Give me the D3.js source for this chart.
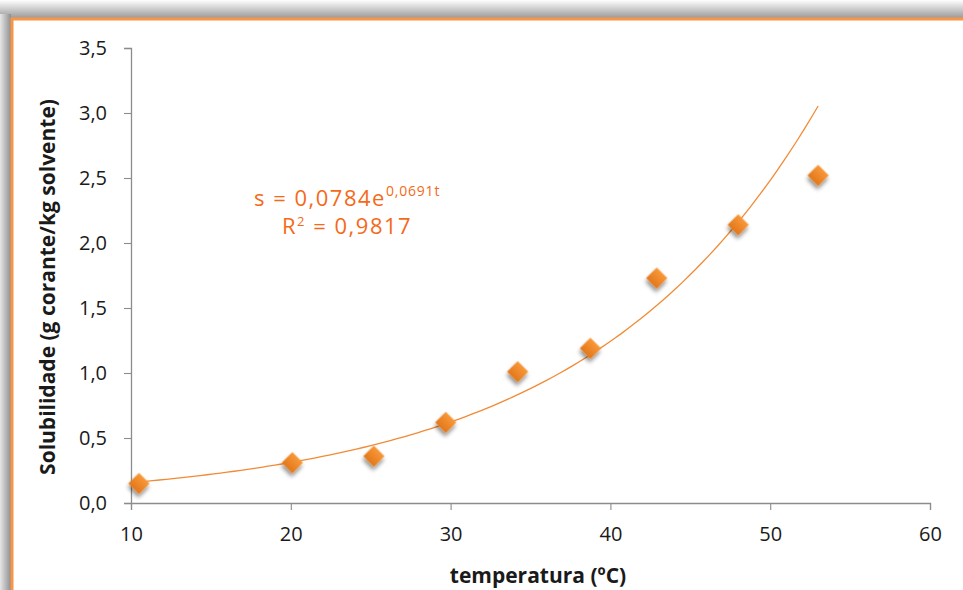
<!DOCTYPE html>
<html><head><meta charset="utf-8">
<script src="https://cdn.jsdelivr.net/npm/d3@7"></script>
<style>
html,body{margin:0;padding:0;background:#fff;}
svg{display:block;}
</style></head>
<body>
<svg id="c" width="963" height="590"></svg>
<script>
const temperatures = [10.5, 20.1, 25.2, 29.7, 34.2, 38.75, 42.9, 48.0, 53.0];
const solubility = [0.15, 0.31, 0.36, 0.62, 1.01, 1.19, 1.73, 2.14, 2.52];
const fitA = 0.0784, fitB = 0.0691;
const xTicks = [10, 20, 30, 40, 50, 60];
const yTicks = [0, 0.5, 1.0, 1.5, 2.0, 2.5, 3.0, 3.5];
const xTitle = "temperatura (ºC)";
const yTitle = "Solubilidade (g corante/kg solvente)";

const svg = d3.select("#c");
const defs = svg.append("defs");

// frame shadow
const gTop = defs.append("linearGradient").attr("id","shTop").attr("x1",0).attr("y1",0).attr("x2",0).attr("y2",1);
gTop.append("stop").attr("offset","0%").attr("stop-color","#ffffff");
gTop.append("stop").attr("offset","100%").attr("stop-color","#9a9a9a");
const gLeft = defs.append("linearGradient").attr("id","shLeft").attr("x1",0).attr("y1",0).attr("x2",1).attr("y2",0);
gLeft.append("stop").attr("offset","0%").attr("stop-color","#e6e6e6");
gLeft.append("stop").attr("offset","100%").attr("stop-color","#8e8e8e");
svg.append("rect").attr("x",0).attr("y",0).attr("width",963).attr("height",18).attr("fill","url(#shTop)");
svg.append("rect").attr("x",0).attr("y",14).attr("width",11).attr("height",576).attr("fill","url(#shLeft)");
svg.append("rect").attr("x",12).attr("y",19).attr("width",960).attr("height",580)
  .attr("fill","#fff").attr("stroke","#F79646").attr("stroke-width",3);

const filt = defs.append("filter").attr("id","ds").attr("x","-50%").attr("y","-50%").attr("width","200%").attr("height","200%");
filt.append("feGaussianBlur").attr("in","SourceAlpha").attr("stdDeviation",2.2).attr("result","b");
filt.append("feOffset").attr("in","b").attr("dx",2).attr("dy",3).attr("result","o");
filt.append("feComponentTransfer").attr("in","o").attr("result","o2")
  .append("feFuncA").attr("type","linear").attr("slope",0.45);
const fm = filt.append("feMerge");
fm.append("feMergeNode").attr("in","o2");
fm.append("feMergeNode").attr("in","SourceGraphic");

const mg = defs.append("linearGradient").attr("id","mk").attr("x1",0).attr("y1",0).attr("x2",0).attr("y2",1);
mg.append("stop").attr("offset","0%").attr("stop-color","#F9983A");
mg.append("stop").attr("offset","100%").attr("stop-color","#E2781A");

const x = d3.scaleLinear().domain([10,60]).range([131,930]);
const y = d3.scaleLinear().domain([0,3.5]).range([503,48]);

const font = "'Open Sans', 'DejaVu Sans', sans-serif";

// axes
const xAxis = svg.append("g").attr("transform","translate(0,503)")
  .call(d3.axisBottom(x).tickValues(xTicks).tickSize(7).tickPadding(24).tickFormat(d3.format("d")));
const yAxis = svg.append("g").attr("transform","translate(131,0)")
  .call(d3.axisLeft(y).tickValues(yTicks).tickSize(7).tickPadding(17).tickFormat(d => d3.format(".1f")(d).replace(".",",")));
[xAxis,yAxis].forEach(a=>{
  a.select(".domain").attr("stroke","#8c8c8c").attr("stroke-width",1.3);
  a.selectAll(".tick line").attr("stroke","#8c8c8c").attr("stroke-width",1.1);
  a.selectAll(".tick text").attr("fill","#1a1a1a").style("font-family",font).style("font-size","20px");
});
xAxis.selectAll(".tick text").attr("dy","0.35em");

// trend line
const tVals = d3.range(0,101).map(i => 10.5 + (53.0-10.5)*i/100);
svg.append("path")
  .datum(tVals)
  .attr("fill","none").attr("stroke","#F28A35").attr("stroke-width",1.3)
  .attr("d", d3.line().x(t=>x(t)).y(t=>y(fitA*Math.exp(fitB*t))));

// markers
const pts = temperatures.map((t,i)=>({t, s: solubility[i]}));
svg.append("g").selectAll("path").data(pts).enter().append("path")
  .attr("d", d3.symbol().type(d3.symbolSquare).size(15*15))
  .attr("transform", d=>`translate(${x(d.t)},${y(d.s)}) rotate(45)`)
  .attr("fill","url(#mk)")
  .attr("filter","url(#ds)");

// equation
const eq = svg.append("text").attr("x",254).attr("y",206).attr("fill","#F56A18")
  .style("font-family",font).style("font-size","22px").style("letter-spacing","1.5px");
eq.append("tspan").text("s = 0,0784e");
eq.append("tspan").attr("dy",-10).style("font-size","14px").style("letter-spacing","0.8px").text("0,0691t");
const r2 = svg.append("text").attr("x",282).attr("y",234).attr("fill","#F56A18")
  .style("font-family",font).style("font-size","22px").style("letter-spacing","1.5px");
r2.append("tspan").text("R");
r2.append("tspan").attr("dy",-8).style("font-size","13px").text("2");
r2.append("tspan").attr("dy",8).text(" = 0,9817");

// titles
svg.append("text").attr("x",538).attr("y",583).attr("text-anchor","middle")
  .attr("fill","#1a1a1a").style("font-family",font).style("font-weight","bold").style("font-size","21px")
  .text(xTitle);
svg.append("text").attr("transform","translate(55,287) rotate(-90)").attr("text-anchor","middle")
  .attr("fill","#1a1a1a").style("font-family",font).style("font-weight","bold").style("font-size","21px")
  .text(yTitle);
</script>
</body></html>
